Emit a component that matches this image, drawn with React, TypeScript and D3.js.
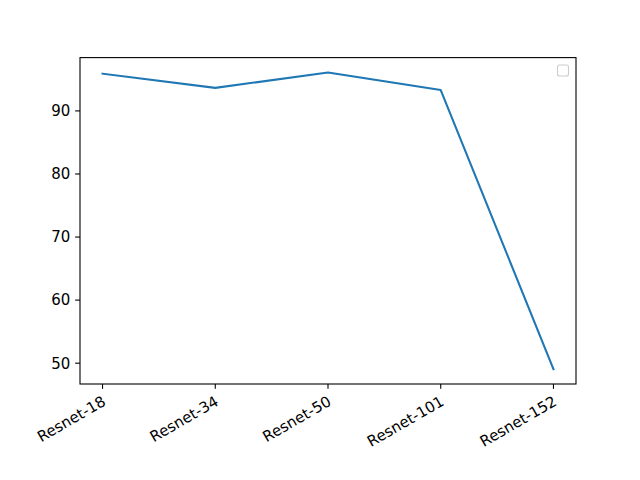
import React, { useEffect, useRef } from 'react';
import * as d3 from 'd3';

const models = ['Resnet-18', 'Resnet-34', 'Resnet-50', 'Resnet-101', 'Resnet-152'];
const accuracy = [95.9, 93.65, 96.1, 93.3, 49.05];
const yTicks = [50, 60, 70, 80, 90];

const W = 640;
const H = 480;

export default function App() {
  const ref = useRef<SVGSVGElement>(null);

  useEffect(() => {
    const svg = d3.select(ref.current);
    svg.selectAll('*').remove();

    // matplotlib-like axes box (bottom raised by autofmt_xdate)
    const margin = { top: 57.6, right: 64, bottom: 96, left: 80 };
    const width = W - margin.left - margin.right;
    const height = H - margin.top - margin.bottom;
    const font = "'DejaVu Sans'";
    const fs = 15;
    const tickLen = 4.86;

    const g = svg.append('g').attr('transform', `translate(${margin.left}, ${margin.top})`);

    // 5% margins on both axes like matplotlib autoscale
    const x = d3.scaleLinear().domain([-0.2, models.length - 1 + 0.2]).range([0, width]);
    const [lo, hi] = d3.extent(accuracy) as [number, number];
    const pad = (hi - lo) * 0.05;
    const y = d3.scaleLinear().domain([lo - pad, hi + pad]).range([height, 0]);

    // line
    const line = d3
      .line<number>()
      .x((d, i) => x(i))
      .y((d) => y(d));
    g.append('path')
      .datum(accuracy)
      .attr('fill', 'none')
      .attr('stroke', '#1f77b4')
      .attr('stroke-width', 2.08)
      .attr('stroke-linejoin', 'round')
      .attr('stroke-linecap', 'square')
      .attr('d', line);

    // y axis
    const yAxis = g.append('g');
    yTicks.forEach((t) => {
      yAxis
        .append('line')
        .attr('x1', 0)
        .attr('x2', -tickLen)
        .attr('y1', y(t))
        .attr('y2', y(t))
        .attr('stroke', 'black')
        .attr('stroke-width', 1.1);
      yAxis
        .append('text')
        .attr('x', -tickLen - 4.86)
        .attr('y', y(t))
        .attr('dy', '0.36em')
        .attr('text-anchor', 'end')
        .style('font-family', font)
        .style('font-size', fs + 'px')
        .text(t);
    });

    // x axis with rotated labels
    const xAxis = g.append('g').attr('transform', `translate(0, ${height})`);
    models.forEach((m, i) => {
      xAxis
        .append('line')
        .attr('x1', x(i))
        .attr('x2', x(i))
        .attr('y1', 0)
        .attr('y2', tickLen)
        .attr('stroke', 'black')
        .attr('stroke-width', 1.1);
      xAxis
        .append('text')
        .attr('transform', `translate(${x(i) - 1.5}, ${tickLen + 5.5}) rotate(-30)`)
        .attr('dy', '0.78em')
        .attr('text-anchor', 'end')
        .style('font-family', font)
        .style('font-size', fs + 'px')
        .text(m);
    });

    // spines
    g.append('rect')
      .attr('width', width)
      .attr('height', height)
      .attr('fill', 'none')
      .attr('stroke', 'black')
      .attr('stroke-width', 1.1);

    // empty legend box
    g.append('rect')
      .attr('x', width - 18.5)
      .attr('y', 7.4)
      .attr('width', 11)
      .attr('height', 11)
      .attr('rx', 2)
      .attr('fill', 'white')
      .attr('fill-opacity', 0.8)
      .attr('stroke', '#cccccc')
      .attr('stroke-width', 1.1);
  }, []);

  return (
    <svg
      ref={ref}
      width={W}
      height={H}
      style={{ position: 'absolute', left: 0, top: 0, background: 'white' }}
    />
  );
}
